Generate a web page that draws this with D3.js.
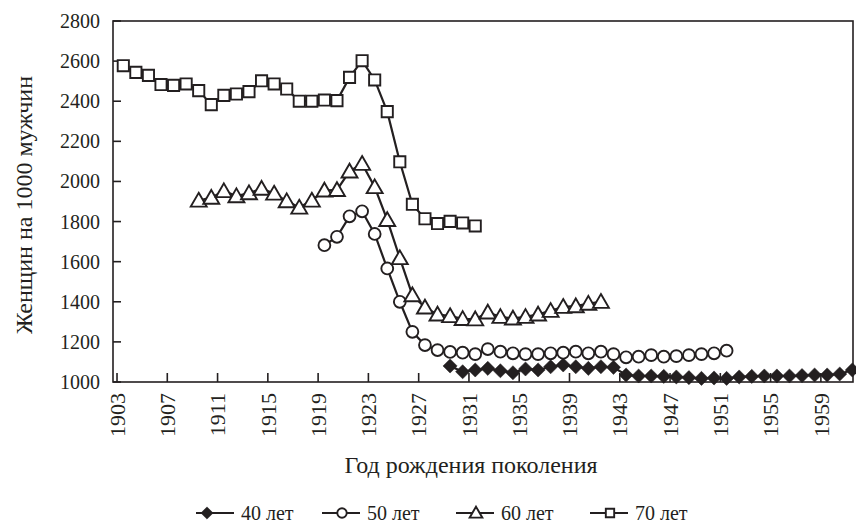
<!DOCTYPE html>
<html>
<head>
<meta charset="utf-8">
<script src="https://cdn.jsdelivr.net/npm/d3@7"></script>
<style>
  body { margin: 0; background: #fff; }
  svg { display: block; }
  text { font-family: "Liberation Serif", "DejaVu Serif", serif; fill: #231f20; }
</style>
</head>
<body>
<svg id="chart" width="856" height="525"></svg>
<script>
// birth-year cohorts, women per 1000 men at given age
var years40 = d3.range(1929, 1962);
var values40 = [1080, 1051, 1060, 1068, 1056, 1046, 1065, 1060, 1076, 1085, 1076, 1068, 1076, 1073,
                1035, 1030, 1030, 1028, 1025, 1022, 1018, 1020, 1018, 1025, 1028, 1030, 1030, 1030,
                1032, 1035, 1035, 1040, 1060];
var years50 = d3.range(1919, 1952);
var values50 = [1682, 1724, 1826, 1851, 1738, 1566, 1400, 1250, 1184, 1159, 1150, 1146, 1139, 1164,
                1151, 1143, 1139, 1139, 1143, 1146, 1151, 1143, 1151, 1139, 1123, 1126, 1134, 1126,
                1129, 1134, 1139, 1143, 1156];
var years60 = d3.range(1909, 1942);
var values60 = [1905, 1919, 1952, 1927, 1942, 1964, 1940, 1902, 1870, 1905, 1955, 1958, 2050, 2088,
                1972, 1808, 1618, 1433, 1372, 1337, 1329, 1315, 1313, 1347, 1325, 1317, 1325, 1337,
                1355, 1375, 1378, 1391, 1400];
var years70 = d3.range(1903, 1932);
var values70 = [2577, 2544, 2529, 2483, 2479, 2486, 2453, 2383, 2429, 2436, 2448, 2502, 2486, 2461,
                2400, 2400, 2406, 2403, 2519, 2602, 2506, 2348, 2098, 1886, 1814, 1790, 1801, 1793,
                1778];
var tickYears = d3.range(1903, 1960, 4);
var yTicks = d3.range(1000, 2801, 200);
var seriesNames = ['40 лет', '50 лет', '60 лет', '70 лет'];
var seriesShapes = [d3.symbolSquare, d3.symbolCircle, d3.symbolTriangle, d3.symbolSquare];

var ink = '#231f20';
var svg = d3.select('#chart');
var plotLeft = 113, plotRight = 853, plotTop = 21, plotBottom = 382;

var x = d3.scaleLinear().domain([1903, 1961]).range([123.3, 852.3]);
var y = d3.scaleLinear().domain([1000, 2800]).range([plotBottom, plotTop]);

// frame
svg.append('rect')
    .attr('x', plotLeft).attr('y', plotTop)
    .attr('width', plotRight - plotLeft).attr('height', plotBottom - plotTop)
    .attr('fill', 'none').attr('stroke', ink).attr('stroke-width', 1.6);

// y ticks point inward
svg.selectAll('.ytick').data(yTicks).enter().append('line')
    .attr('class', 'ytick')
    .attr('x1', plotLeft).attr('x2', plotLeft + 8)
    .attr('y1', function(d) { return y(d); })
    .attr('y2', function(d) { return y(d); })
    .attr('stroke', ink).attr('stroke-width', 1.6);
svg.selectAll('.ylab').data(yTicks).enter().append('text')
    .attr('class', 'ylab')
    .attr('x', 100)
    .attr('y', function(d) { return y(d); })
    .attr('dy', '0.35em')
    .attr('text-anchor', 'end')
    .style('font-size', '20px')
    .text(function(d) { return d; });

// x ticks sit on category boundaries
svg.selectAll('.xtick').data(tickYears).enter().append('line')
    .attr('class', 'xtick')
    .attr('x1', function(d) { return x(d - 0.5); })
    .attr('x2', function(d) { return x(d - 0.5); })
    .attr('y1', plotBottom).attr('y2', plotBottom - 9)
    .attr('stroke', ink).attr('stroke-width', 1.6);
svg.selectAll('.xlab').data(tickYears).enter().append('text')
    .attr('class', 'xlab')
    .attr('transform', function(d) { return 'translate(' + x(d - 0.5) + ',393) rotate(-90)'; })
    .attr('dy', '0.35em')
    .attr('text-anchor', 'end')
    .style('font-size', '22px')
    .text(function(d) { return d; });

svg.append('text')
    .attr('x', 471).attr('y', 465)
    .attr('dy', '0.35em')
    .attr('text-anchor', 'middle')
    .style('font-size', '24px')
    .text('Год рождения поколения');
svg.append('text')
    .attr('transform', 'translate(24,205) rotate(-90)')
    .attr('dy', '0.35em')
    .attr('text-anchor', 'middle')
    .style('font-size', '24px')
    .text('Женщин на 1000 мужчин');

var series = [
    { years: years40, values: values40 },
    { years: years50, values: values50 },
    { years: years60, values: values60 },
    { years: years70, values: values70 }
];
var markerSize = [100, 110, 110, 125];

var line = d3.line()
    .x(function(d) { return x(d.year); })
    .y(function(d) { return y(d.value); });

// diamonds are squares turned by 45 degrees
var drawMarker = function(sel, i, size) {
    sel.attr('d', d3.symbol().type(seriesShapes[i]).size(size))
        .attr('fill', i === 0 ? ink : '#fff')
        .attr('stroke', ink)
        .attr('stroke-width', i === 0 ? 0.5 : 1.9);
};
var place = function(i, px, py) {
    return 'translate(' + px + ',' + (py + (i === 2 ? 1.5 : 0)) + ')' + (i === 0 ? ' rotate(45)' : '');
};

series.forEach(function(s, i) {
    var pts = s.years.map(function(yr, j) { return { year: yr, value: s.values[j] }; });
    svg.append('path')
        .datum(pts)
        .attr('d', line)
        .attr('fill', 'none')
        .attr('stroke', ink)
        .attr('stroke-width', 2.2);
    svg.selectAll('.m' + i).data(pts).enter().append('path')
        .attr('class', 'm' + i)
        .attr('transform', function(d) { return place(i, x(d.year), y(d.value)); })
        .call(drawMarker, i, markerSize[i]);
});

// legend
var legendStart = [196, 322, 456, 590];
var legendY = 513;
legendStart.forEach(function(lx, i) {
    var g = svg.append('g');
    g.append('line')
        .attr('x1', lx).attr('x2', lx + 38)
        .attr('y1', legendY).attr('y2', legendY)
        .attr('stroke', ink).attr('stroke-width', 2);
    g.append('path')
        .attr('transform', place(i, i === 0 ? lx + 11 : lx + 20, legendY - (i === 2 ? 0.5 : 0)))
        .call(drawMarker, i, i === 0 ? 75 : 70);
    g.append('text')
        .attr('x', lx + 45).attr('y', legendY)
        .attr('dy', '0.35em')
        .style('font-size', '20px')
        .text(seriesNames[i]);
});
</script>
</body>
</html>
